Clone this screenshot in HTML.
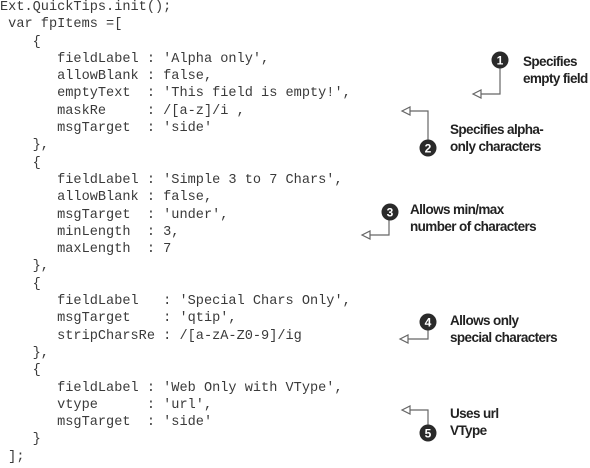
<!DOCTYPE html>
<html><head><meta charset="utf-8"><style>
body{margin:0;width:590px;height:468px;background:#fff;position:relative;overflow:hidden}
pre{position:absolute;left:0;top:-1px;margin:0;font-family:"Liberation Mono",monospace;font-size:13.6px;line-height:17.3px;color:#3a3a3a}
.t{position:absolute;font-family:"Liberation Sans",sans-serif;font-weight:bold;font-size:13.5px;line-height:16.5px;letter-spacing:-0.6px;color:#222}
svg{position:absolute;left:0;top:0}
</style></head><body>
<pre>Ext.QuickTips.init();
 var fpItems =[
    {
       fieldLabel : 'Alpha only',
       allowBlank : false,
       emptyText  : 'This field is empty!',
       maskRe     : /[a-z]/i ,
       msgTarget  : 'side'
    },
    {
       fieldLabel : 'Simple 3 to 7 Chars',
       allowBlank : false,
       msgTarget  : 'under',
       minLength  : 3,
       maxLength  : 7
    },
    {
       fieldLabel   : 'Special Chars Only',
       msgTarget    : 'qtip',
       stripCharsRe : /[a-zA-Z0-9]/ig
    },
    {
       fieldLabel : 'Web Only with VType',
       vtype      : 'url',
       msgTarget  : 'side'
    }
 ];</pre>
<svg width="590" height="468" fill="none" stroke="#666" stroke-width="1.2">
<path d="M500 66V94H480"/><path d="M473 94l8-4v8z" fill="#fff"/>
<path d="M428 142V111H409"/><path d="M402 111l8-4v8z" fill="#fff"/>
<path d="M389 218V235H369"/><path d="M362 235l8-4v8z" fill="#fff"/>
<path d="M428 328V339H407"/><path d="M400 339l8-4v8z" fill="#fff"/>
<path d="M428 427V410H409"/><path d="M402 410l8-4v8z" fill="#fff"/>
<g fill="#2a2a2a" stroke="none">
<circle cx="500" cy="60" r="8.5"/><circle cx="428" cy="148" r="8.5"/><circle cx="390" cy="212" r="8.5"/><circle cx="428" cy="322" r="8.5"/><circle cx="428" cy="433" r="8.5"/>
</g>
<g fill="#fff" stroke="none" font-family="Liberation Sans,sans-serif" font-weight="bold" font-size="12" text-anchor="middle">
<text x="500" y="64.5">1</text><text x="428" y="152.5">2</text><text x="390" y="216.5">3</text><text x="428" y="326.5">4</text><text x="428" y="437.5">5</text>
</g>
</svg>
<div class="t" style="left:523px;top:54px">Specifies<br>empty field</div>
<div class="t" style="left:450px;top:122px">Specifies alpha-<br>only characters</div>
<div class="t" style="left:410px;top:202px">Allows min/max<br>number of characters</div>
<div class="t" style="left:450px;top:313px">Allows only<br>special characters</div>
<div class="t" style="left:450px;top:406px">Uses url<br>VType</div>
</body></html>
